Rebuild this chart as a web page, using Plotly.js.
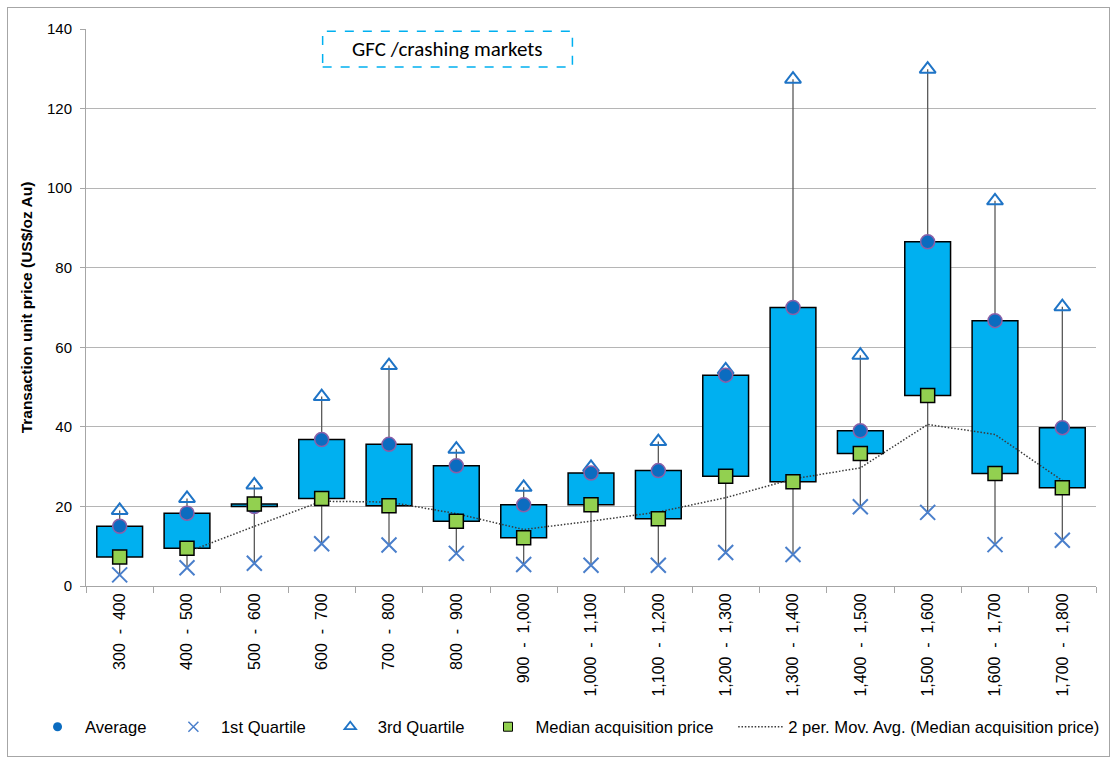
<!DOCTYPE html>
<html>
<head>
<meta charset="utf-8">
<script src="https://cdn.plot.ly/plotly-3.0.1.min.js"></script>
<style>
  html, body { margin: 0; padding: 0; background: #ffffff; }
  #wrap { position: relative; width: 1117px; height: 760px; }
  #chart { position: absolute; left: 0; top: 0; width: 1117px; height: 760px; }
  #frame { position: absolute; left: 7px; top: 7px; width: 1101px; height: 748px; border: 1.5px solid #A6A6A6; pointer-events: none; }
</style>
</head>
<body>
<div id="wrap">
  <div id="chart"></div>
  <div id="frame"></div>
</div>
<script>
// Price bands (category labels)
const categories = ["300 - 400", "400 - 500", "500 - 600", "600 - 700", "700 - 800", "800 - 900",
  "900 - 1,000", "1,000 - 1,100", "1,100 - 1,200", "1,200 - 1,300", "1,300 - 1,400",
  "1,400 - 1,500", "1,500 - 1,600", "1,600 - 1,700", "1,700 - 1,800"];

// Series values (US$/oz Au)
const average    = [15.0, 18.3, 20.0, 36.8, 35.6, 30.2, 20.4, 28.4, 29.0, 53.0, 70.0, 39.0, 86.5, 66.7, 39.8];
const median     = [7.3, 9.5, 20.6, 22.0, 20.2, 16.3, 12.1, 20.4, 16.9, 27.6, 26.2, 33.3, 47.9, 28.3, 24.7];
const quartile1  = [2.8, 4.6, 5.7, 10.6, 10.3, 8.2, 5.4, 5.2, 5.2, 8.4, 7.9, 19.9, 18.5, 10.4, 11.5];
const quartile3  = [19.0, 22.0, 25.4, 47.6, 55.4, 34.4, 24.8, 29.8, 36.3, 54.3, 127.4, 58.0, 129.9, 96.8, 70.2];
const movAvg     = [null, 8.5, 15.0, 21.3, 21.1, 18.2, 14.2, 16.3, 18.6, 22.2, 26.9, 29.7, 40.6, 38.1, 26.5];

const yTickVals = [0, 20, 40, 60, 80, 100, 120, 140];

const FONT = '"Liberation Sans", Arial, sans-serif';

// tick text: same labels, with wider spacing around the dash as in the original
const tickText = categories.map(c => c.replace(' - ', '\u00a0\u00a0-\u00a0\u00a0'));

// Marker styles
const avgMarker = { symbol: 'circle', color: '#0B6CC0', line: { color: '#8A60A8', width: 1.5 } };
const q1Marker  = { symbol: 'x-thin-open', color: '#4A7FCB', line: { color: '#4A7FCB', width: 2 } };
const q3Marker  = { symbol: 'triangle-up-open', color: '#1F74C6', line: { color: '#1F74C6', width: 2 } };
const medMarker = { symbol: 'square', color: '#92D050', line: { color: '#000000', width: 1.5 } };

// Boxes from median to average
const boxTrace = {
  type: 'bar', x: categories, base: median,
  y: average.map((v, i) => v - median[i]),
  width: 0.68,
  marker: { color: '#00B0F0', line: { color: '#000000', width: 1.5 } },
  showlegend: false, hoverinfo: 'skip'
};

// Whiskers: from Q1 to bottom of box, and from top of box to Q3
const wx = [], wy = [];
categories.forEach((c, i) => {
  const lo = Math.min(average[i], median[i]);
  const hi = Math.max(average[i], median[i]);
  wx.push(c, c, null, c, c, null);
  wy.push(quartile1[i], lo, null, hi, quartile3[i], null);
});
const whiskerTrace = {
  type: 'scatter', mode: 'lines', x: wx, y: wy,
  line: { color: '#595959', width: 1.3 },
  showlegend: false, hoverinfo: 'skip', connectgaps: false
};

const maTrace = {
  type: 'scatter', mode: 'lines', x: categories, y: movAvg,
  name: '2 per. Mov. Avg. (Median acquisition price)',
  line: { color: '#3A3A3A', width: 1.5, dash: '1.5px,1.8px' },
  legend: 'legend5'
};

const q1Trace = { type: 'scatter', mode: 'markers', x: categories, y: quartile1, name: '1st Quartile',
  marker: Object.assign({ size: 15 }, q1Marker), showlegend: false };
const q3Trace = { type: 'scatter', mode: 'markers', x: categories, y: quartile3, name: '3rd Quartile',
  marker: Object.assign({ size: 14 }, q3Marker), showlegend: false };
const avgTrace = { type: 'scatter', mode: 'markers', x: categories, y: average, name: 'Average',
  marker: Object.assign({ size: 14 }, avgMarker), showlegend: false };
const medTrace = { type: 'scatter', mode: 'markers', x: categories, y: median, name: 'Median acquisition price',
  marker: Object.assign({ size: 14 }, medMarker), showlegend: false };

// Legend entries (smaller symbols, as in the original legend)
const legAvg = { type: 'scatter', mode: 'markers', x: [null], y: [null], name: 'Average',
  marker: Object.assign({}, avgMarker, { size: 9, line: { color: '#0B6CC0', width: 0 } }), legend: 'legend' };
const legQ1 = { type: 'scatter', mode: 'markers', x: [null], y: [null], name: '1st Quartile',
  marker: Object.assign({}, q1Marker, { size: 10, line: { color: '#4A7FCB', width: 1.5 } }), legend: 'legend2' };
const legQ3 = { type: 'scatter', mode: 'markers', x: [null], y: [null], name: '3rd Quartile',
  marker: Object.assign({}, q3Marker, { size: 10, line: { color: '#1F74C6', width: 1.8 } }), legend: 'legend3' };
const legMed = { type: 'scatter', mode: 'markers', x: [null], y: [null], name: 'Median acquisition price',
  marker: Object.assign({}, medMarker, { size: 9, line: { color: '#000000', width: 1 } }), legend: 'legend4' };

const legBase = (x) => ({
  x: x, xanchor: 'left', y: -0.253, yanchor: 'middle',
  orientation: 'h', font: { family: FONT, size: 16.6, color: '#000' },
  bgcolor: 'rgba(0,0,0,0)', itemsizing: 'trace', itemwidth: 45
});

const layout = {
  width: 1117, height: 760,
  margin: { l: 86, r: 19, t: 29, b: 174 },
  paper_bgcolor: 'rgba(0,0,0,0)', plot_bgcolor: 'rgba(0,0,0,0)',
  barmode: 'overlay',
  font: { family: FONT, color: '#000' },
  xaxis: {
    type: 'category', range: [-0.5, categories.length - 0.5],
    tickvals: categories, ticktext: tickText,
    tickangle: -90, tickson: 'boundaries', ticks: 'outside', ticklen: 6,
    tickcolor: '#A6A6A6', showline: true, linecolor: '#A6A6A6', linewidth: 1,
    showgrid: false, zeroline: false,
    tickfont: { family: FONT, size: 16, color: '#000' }
  },
  yaxis: {
    range: [0, 140], tickvals: yTickVals, ticks: 'outside', ticklen: 5,
    tickcolor: '#A6A6A6', showline: true, linecolor: '#A6A6A6', linewidth: 1,
    showgrid: true, gridcolor: '#B5B5B5', gridwidth: 1, zeroline: false,
    ticklabelstandoff: 5,
    tickfont: { family: FONT, size: 15, color: '#000' },
    title: { text: '<b>Transaction unit price (US$/oz Au)</b>', font: { family: FONT, size: 15.5, color: '#000' }, standoff: 10 }
  },
  legend: legBase(-0.0554),
  legend2: legBase(0.0791),
  legend3: legBase(0.2344),
  legend4: legBase(0.3906),
  legend5: legBase(0.6408),
  shapes: [{
    type: 'rect', xref: 'paper', yref: 'paper',
    x0: 0.2343, x1: 0.4816, y0: 0.932, y1: 0.996,
    line: { color: '#00B0F0', width: 1.5, dash: 'dash' }, fillcolor: 'rgba(0,0,0,0)'
  }],
  annotations: [{
    xref: 'paper', yref: 'paper', x: 0.358, y: 0.964, xanchor: 'center', yanchor: 'middle',
    text: 'GFC /crashing markets', showarrow: false,
    font: { family: 'Carlito, Calibri, Lato, sans-serif', size: 21, color: '#000' }
  }]
};

Plotly.newPlot('chart',
  [boxTrace, whiskerTrace, maTrace, q1Trace, q3Trace, avgTrace, medTrace, legAvg, legQ1, legQ3, legMed],
  layout, { displayModeBar: false, staticPlot: true });
</script>
</body>
</html>
